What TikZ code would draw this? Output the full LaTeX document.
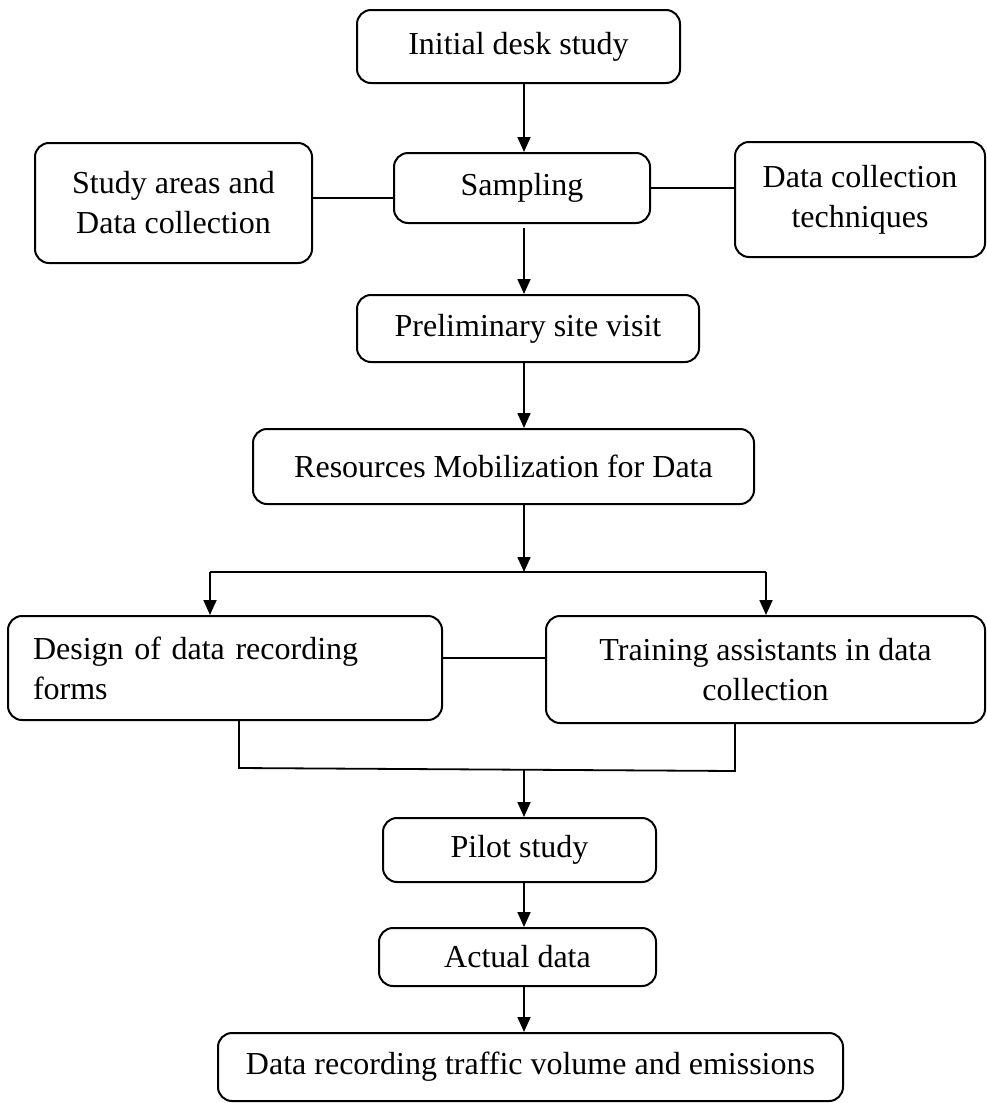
\documentclass[tikz,border=0pt]{standalone}
\usepackage{fontspec}
\setmainfont{Liberation Serif}
\usetikzlibrary{arrows.meta, positioning, calc}
\tikzset{
  every picture/.style={line width=1.8pt},
  stage/.style={draw, rounded corners=14pt, align=center, inner sep=4pt,
    font=\fontsize{32}{40}\selectfont, line width=2pt},
  arrow/.style={-{Triangle[length=15pt, width=13pt]}},
  link/.style={line width=1.8pt},
}
\begin{document}
\begin{tikzpicture}[x=1pt, y=-1pt]
  \useasboundingbox (0,0) rectangle (987,1103);
  % stages
  \node[stage, minimum width=323pt, minimum height=73pt] (init) at (518.5,46.5) {Initial desk study};
  \node[stage, minimum width=256pt, minimum height=70pt] (samp) at (522,188) {Sampling};
  \node[stage, minimum width=277pt, minimum height=120pt] (areas) at (173.5,203) {Study areas and\\Data collection};
  \node[stage, minimum width=250pt, minimum height=115pt] (tech) at (860,199.5) {Data collection\\techniques};
  \node[stage, minimum width=342pt, minimum height=67pt] (prelim) at (528,328.5) {Preliminary site visit};
  \node[stage, minimum width=501pt, minimum height=75pt] (res) at (503.5,466.5) {Resources Mobilization for Data};
  \node[stage, minimum width=434pt, minimum height=104pt, text width=384pt, align=left, inner xsep=25pt] (design) at (225,668) {Design of data recording\\forms};
  \node[stage, minimum width=439pt, minimum height=107pt] (train) at (765.5,669.5) {Training assistants in data\\collection};
  \node[stage, minimum width=273pt, minimum height=64pt] (pilot) at (519.5,850) {Pilot study};
  \node[stage, minimum width=277pt, minimum height=58pt] (actual) at (517.5,957) {Actual data};
  \node[stage, minimum width=625pt, minimum height=68pt] (rec) at (530.5,1067) {Data recording traffic volume and emissions};
  % helper points
  \coordinate (spine) at (524,0);
  \coordinate (split) at (524,572);
  \coordinate (splitL) at (210,572);
  \coordinate (splitR) at (766,572);
  \coordinate (joinL) at (239,768);
  \coordinate (joinR) at (735,771);
  \coordinate (join) at (524,769.5);
  % main flow
  \draw[arrow] (init.south -| spine) -- (samp.north -| spine);
  \draw[arrow] ([yshift=-4pt]samp.south -| spine) -- (prelim.north -| spine);
  \draw[arrow] (prelim.south -| spine) -- (res.north -| spine);
  \draw[arrow] (res.south -| spine) -- (split);
  \draw[link] (splitL) -- (splitR);
  \draw[arrow] (splitL) -- (splitL |- design.north);
  \draw[arrow] (splitR) -- (splitR |- train.north);
  \draw[link] (joinL |- design.south) -- (joinL) -- (joinR) -- (joinR |- train.south);
  \draw[arrow] (join) -- (pilot.north -| spine);
  \draw[arrow] (pilot.south -| spine) -- (actual.north -| spine);
  \draw[arrow] (actual.south -| spine) -- (rec.north -| spine);
  % side links
  \draw[link] ([yshift=5pt]areas.east) -- ([yshift=5pt]areas.east -| samp.west);
  \draw[link] (samp.east) -- (samp.east -| tech.west);
  \draw[link] ([yshift=10pt]design.east) -- ([yshift=10pt]design.east -| train.west);
\end{tikzpicture}
\end{document}
